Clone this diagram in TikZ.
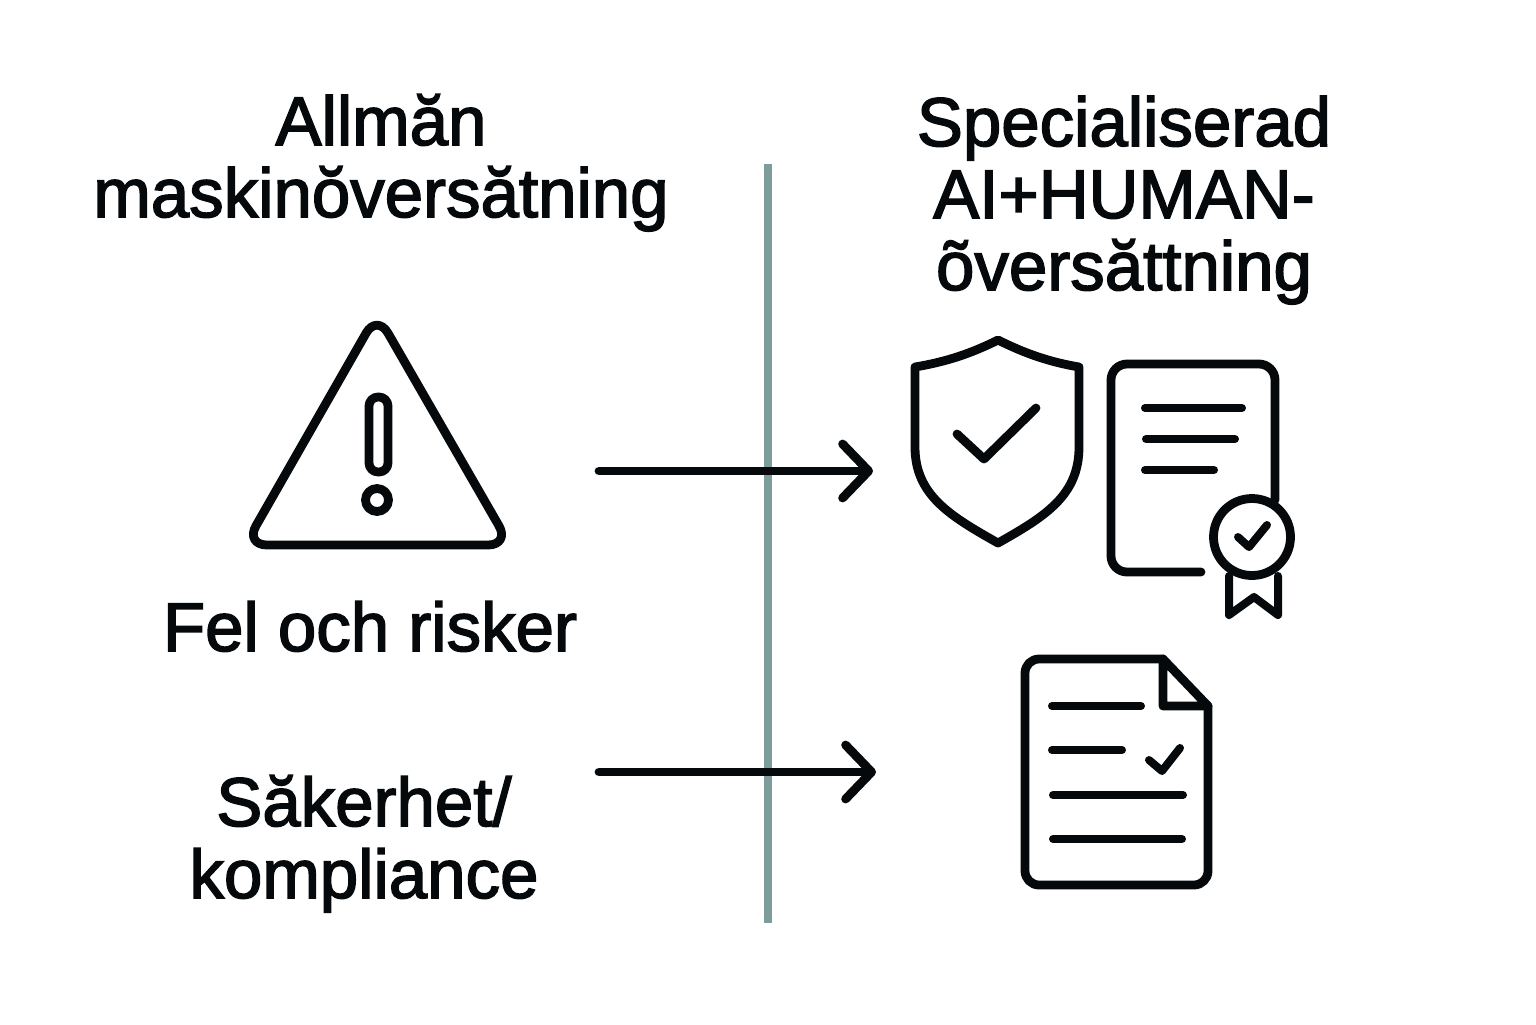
\documentclass[tikz,border=0pt]{standalone}
\usepackage{fontspec}
\setmainfont{Liberation Sans}[FakeBold=2.2]
\usepackage{tikz}
\usetikzlibrary{arrows.meta,positioning}
\definecolor{inkc}{HTML}{05090B}
\definecolor{dividerc}{HTML}{7E9C9A}
\tikzset{
    label/.style={font=\fontsize{34.5pt}{36pt}\selectfont,text=inkc,align=center,inner sep=0pt,anchor=base},
    icon/.style={draw=inkc,line width=4.4pt,line cap=round,line join=round},
    thin icon/.style={icon,line width=4pt},
    flow/.style={draw=inkc,line width=4.4pt,line cap=round,-{Straight Barb[length=13pt,width=27pt,line width=4.4pt,round]}}
}

\begin{document}
\begin{tikzpicture}[x=0.5pt,y=-0.5pt]
            \useasboundingbox (0,0) rectangle (1536,1024);
            \fill[white] (0,0) rectangle (1536,1024);
            \coordinate (dtop) at (768,164);
            \coordinate (dbot) at (768,923);
            \draw[dividerc,line width=4.4pt] (dtop) -- (dbot);

            \node[label] (general) at (381,217) {Allmăn\\maskinŏversătning};
            \node[label] (special) at (1124,290) {Specialiserad\\AI+HUMAN-\\õversăttning};
            \node[label] (risks) at (370,651) {Fel och risker};
            \node[label] (safety) at (364,898) {Săkerhet/\\kompliance};

            \draw[icon,rounded corners=11pt] (377,314) -- (510,545) -- (245,545) -- cycle;
            \draw[icon,rounded corners=4.5pt] (369,397) rectangle (388,472);
            \node[icon,circle,minimum size=11.5pt,inner sep=0pt] (dot) at (377,500) {};

            \draw[icon] (998,340) .. controls (970,354) and (945,362) .. (915,367) -- (915,447) .. controls (915,495) and (950,516) .. (998,543) .. controls (1046,516) and (1079,495) .. (1079,447) -- (1079,367) .. controls (1050,362) and (1026,354) .. (998,340) -- cycle;
            \draw[icon] (957,434) -- (984,459) -- (1036,408);

            \draw[icon,rounded corners=8pt] (1201,572) -- (1111,572) -- (1111,364) -- (1275,364) -- (1275,500);
            \draw[thin icon] (1145,408) -- (1242,408);
            \draw[thin icon] (1146,439) -- (1235,439);
            \draw[thin icon] (1145,470) -- (1214,470);
            \node[icon,circle,fill=white,minimum size=38.5pt,inner sep=0pt] (seal) at (1252,537) {};
            \draw[thin icon] (1238,537) -- (1249,547) -- (1267,525);
            \draw[thin icon] (1229,576) -- (1229,615) -- (1254,597) -- (1278,615) -- (1278,576);

            \draw[icon,rounded corners=7pt] (1163,659) -- (1025,659) -- (1025,885) -- (1208,885) -- (1208,706);
            \draw[icon] (1163,659) -- (1208,706) -- (1163,706) -- cycle;
            \draw[thin icon] (1052,706) -- (1141,706);
            \draw[thin icon] (1052,750) -- (1122,750);
            \draw[thin icon] (1149,760) -- (1162,771) -- (1180,748);
            \draw[thin icon] (1053,795) -- (1183,795);
            \draw[thin icon] (1053,839) -- (1182,839);

            \coordinate (topstart) at (599,471);
            \coordinate (topend) at (873,471);
            \coordinate (botstart) at (599,772);
            \coordinate (botend) at (876,772);
            \draw[flow] (topstart) -- (topend);
            \draw[flow] (botstart) -- (botend);
        \end{tikzpicture}
\end{document}
